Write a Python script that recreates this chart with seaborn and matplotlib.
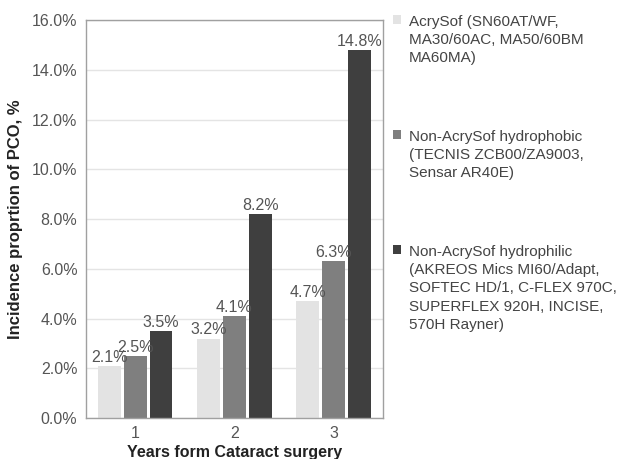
import matplotlib
matplotlib.use("Agg")
import matplotlib.pyplot as plt
import seaborn as sns
import pandas as pd
from matplotlib.ticker import FuncFormatter
from matplotlib.patches import Patch

years = ["1", "2", "3"]
series_names = [
    "AcrySof (SN60AT/WF,\nMA30/60AC, MA50/60BM\nMA60MA)",
    "Non-AcrySof hydrophobic\n(TECNIS ZCB00/ZA9003,\nSensar AR40E)",
    "Non-AcrySof hydrophilic\n(AKREOS Mics MI60/Adapt,\nSOFTEC HD/1, C-FLEX 970C,\nSUPERFLEX 920H, INCISE,\n570H Rayner)",
]
acrysof = [2.1, 3.2, 4.7]
hydrophobic = [2.5, 4.1, 6.3]
hydrophilic = [3.5, 8.2, 14.8]
colors = ["#e3e3e3", "#7f7f7f", "#3f3f3f"]

rows = []
for name, vals in zip(series_names, [acrysof, hydrophobic, hydrophilic]):
    for y, v in zip(years, vals):
        rows.append({"Year": y, "Series": name, "Value": v})
df = pd.DataFrame(rows)

sns.set_theme(style="white")
plt.rcParams["font.family"] = ["Liberation Sans", "DejaVu Sans"]

fig = plt.figure(figsize=(6.17, 4.59), dpi=100)
ax = fig.add_axes([0.139, 0.089, 0.482, 0.867])

sns.barplot(data=df, x="Year", y="Value", hue="Series", hue_order=series_names,
            order=years, palette=colors, width=0.78, gap=0.12, ax=ax,
            edgecolor="none", linewidth=0, legend=False)

for cont in ax.containers:
    ax.bar_label(cont, labels=[f"{v:.1f}%" for v in cont.datavalues],
                 padding=1, fontsize=11.5, color="#555555")

ax.set_ylim(0, 16)
ax.set_yticks([0, 2, 4, 6, 8, 10, 12, 14, 16])
ax.yaxis.set_major_formatter(FuncFormatter(lambda v, p: f"{v:.1f}%"))
ax.grid(axis="y", color="#e4e4e4", linewidth=1)
ax.set_axisbelow(True)
for s in ax.spines.values():
    s.set_visible(True)
    s.set_color("#a0a0a0")
    s.set_linewidth(1)
ax.tick_params(axis="both", labelsize=11.5, colors="#555555", length=0, pad=6)
ax.set_xlabel("Years form Cataract surgery", fontsize=11.5, fontweight="bold",
              color="#222222", labelpad=2.5)
ax.set_ylabel("Incidence proprtion of PCO, %", fontsize=12, fontweight="bold",
              color="#222222", labelpad=6)

handles = [Patch(facecolor=c, edgecolor="none") for c in colors]
leg = fig.legend(handles, series_names, loc="upper left",
                 bbox_to_anchor=(0.614, 0.998), frameon=False, fontsize=11,
                 handlelength=0.55, handleheight=0.55, handletextpad=0.5,
                 labelspacing=4.2)
for t in leg.get_texts():
    t.set_color("#444444")
    t.set_linespacing(1.4)
for col in leg._legend_handle_box.get_children():
    for item in col.get_children():
        item.align = "top"

fig.savefig("out.png", dpi=100)
